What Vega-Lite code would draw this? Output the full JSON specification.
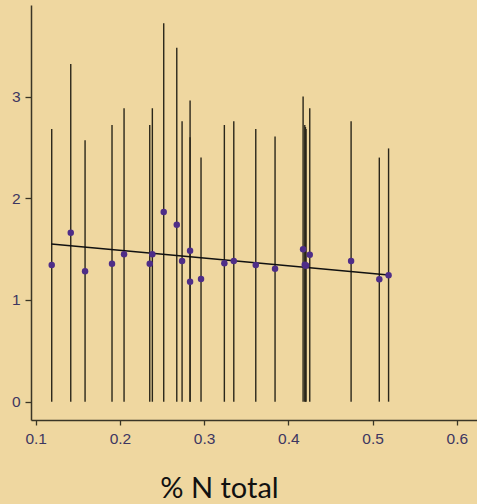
{
  "$schema": "https://vega.github.io/schema/vega-lite/v6.json",
  "autosize": "none",
  "width": 446,
  "height": 415,
  "padding": {"left": 31, "top": 5, "right": 0, "bottom": 84},
  "background": "#EFD7A0",
  "config": {
    "view": {"stroke": null},
    "axis": {
      "grid": false,
      "domainColor": "#3a3526",
      "domainWidth": 1.5,
      "tickColor": "#3a3526",
      "tickWidth": 1.3,
      "labelFont": "Liberation Sans",
      "labelFontSize": 15.5,
      "labelColor": "#3d3660"
    }
  },
  "datasets": {
    "obs": [
      {"n": 0.119, "mean": 1.344, "lower": 0, "upper": 2.68},
      {"n": 0.1416, "mean": 1.662, "lower": 0, "upper": 3.32},
      {"n": 0.1586, "mean": 1.282, "lower": 0, "upper": 2.57},
      {"n": 0.1906, "mean": 1.357, "lower": 0, "upper": 2.72},
      {"n": 0.2049, "mean": 1.449, "lower": 0, "upper": 2.885},
      {"n": 0.2354, "mean": 1.357, "lower": 0, "upper": 2.72},
      {"n": 0.2385, "mean": 1.449, "lower": 0, "upper": 2.885},
      {"n": 0.252, "mean": 1.865, "lower": 0, "upper": 3.72},
      {"n": 0.2675, "mean": 1.74, "lower": 0, "upper": 3.48},
      {"n": 0.2738, "mean": 1.383, "lower": 0, "upper": 2.757},
      {"n": 0.2833, "mean": 1.485, "lower": 0, "upper": 2.96},
      {"n": 0.2833, "mean": 1.18, "lower": 0, "upper": 2.6},
      {"n": 0.2963, "mean": 1.206, "lower": 0, "upper": 2.4},
      {"n": 0.324, "mean": 1.361, "lower": 0, "upper": 2.72},
      {"n": 0.3352, "mean": 1.383, "lower": 0, "upper": 2.757},
      {"n": 0.3613, "mean": 1.344, "lower": 0, "upper": 2.68},
      {"n": 0.3842, "mean": 1.308, "lower": 0, "upper": 2.606},
      {"n": 0.4175, "mean": 1.498, "lower": 0, "upper": 3.0},
      {"n": 0.4195, "mean": 1.347, "lower": 0, "upper": 2.72},
      {"n": 0.4203, "mean": 1.34, "lower": 0, "upper": 2.7},
      {"n": 0.421, "mean": 1.34, "lower": 0, "upper": 2.68},
      {"n": 0.4254, "mean": 1.445, "lower": 0, "upper": 2.885},
      {"n": 0.4745, "mean": 1.383, "lower": 0, "upper": 2.757},
      {"n": 0.508, "mean": 1.203, "lower": 0, "upper": 2.4},
      {"n": 0.519, "mean": 1.243, "lower": 0, "upper": 2.49}
    ],
    "fit": [
      {"n": 0.1185, "mean": 1.551},
      {"n": 0.519, "mean": 1.245}
    ]
  },
  "layer": [
    {
      "data": {"name": "obs"},
      "mark": {"type": "rule", "color": "#2a261a", "strokeWidth": 1.4},
      "encoding": {
        "x": {
          "field": "n",
          "type": "quantitative",
          "scale": {"domain": [0.0944, 0.624], "nice": false, "zero": false},
          "axis": {
            "values": [0.1, 0.2, 0.3, 0.4, 0.5, 0.6],
            "format": ".1f",
            "tickSize": 5,
            "labelPadding": 6,
            "title": "% N total",
            "titleFont": "Lato",
            "titleFontSize": 29,
            "titleFontWeight": "normal",
            "titleColor": "#111111",
            "titleX": 188,
            "titleY": 77,
            "titleAlign": "center",
            "titleBaseline": "alphabetic"
          }
        },
        "y": {
          "field": "lower",
          "type": "quantitative",
          "scale": {"domain": [-0.18, 3.9], "nice": false, "zero": false},
          "axis": {
            "values": [0, 1, 2, 3],
            "format": "d",
            "tickSize": 6,
            "labelPadding": 5,
            "title": null
          }
        },
        "y2": {"field": "upper"}
      }
    },
    {
      "data": {"name": "fit"},
      "mark": {"type": "line", "color": "#111111", "strokeWidth": 1.4},
      "encoding": {
        "x": {"field": "n", "type": "quantitative"},
        "y": {"field": "mean", "type": "quantitative"}
      }
    },
    {
      "data": {"name": "obs"},
      "mark": {"type": "point", "filled": true, "color": "#4e2d88", "opacity": 1, "size": 42},
      "encoding": {
        "x": {"field": "n", "type": "quantitative"},
        "y": {"field": "mean", "type": "quantitative"}
      }
    }
  ]
}
